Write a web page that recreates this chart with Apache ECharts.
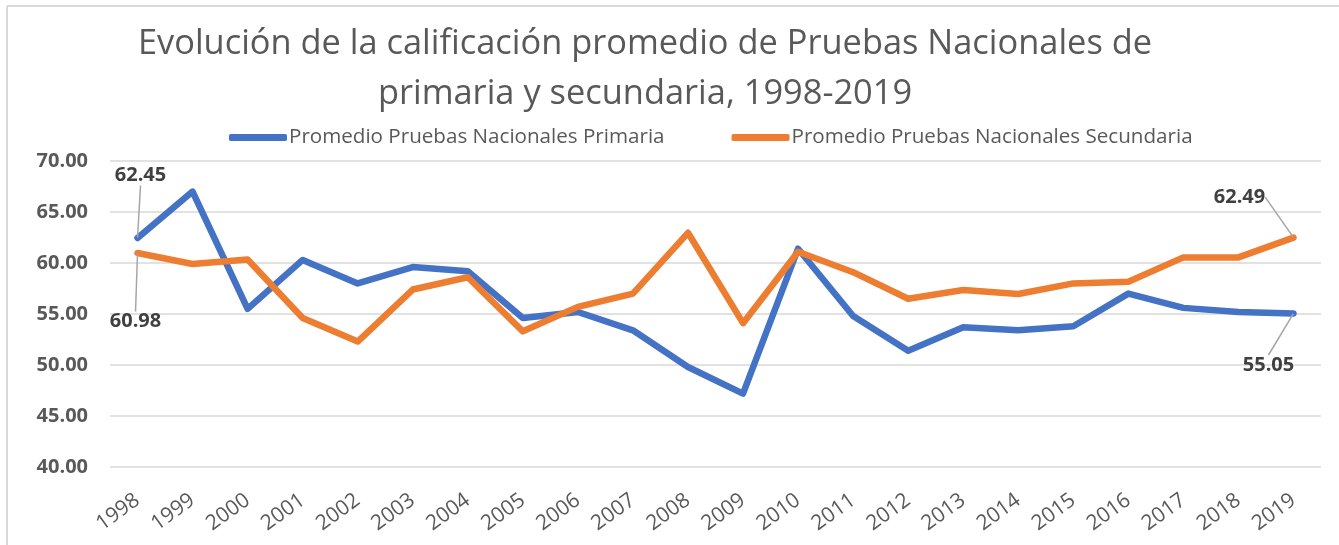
<!DOCTYPE html>
<html>
<head>
<meta charset="utf-8">
<script src="https://cdn.jsdelivr.net/npm/echarts@6/dist/echarts.min.js"></script>
<style>
html,body{margin:0;padding:0;background:#fff;}
#chart{width:1339px;height:545px;}
</style>
</head>
<body>
<div id="chart"></div>
<script>
const years = ['1998','1999','2000','2001','2002','2003','2004','2005','2006','2007','2008','2009','2010','2011','2012','2013','2014','2015','2016','2017','2018','2019'];
const primaria = [62.45,67.0,55.5,60.3,58.0,59.6,59.2,54.6,55.2,53.4,49.8,47.2,61.4,54.8,51.4,53.7,53.4,53.8,57.0,55.6,55.2,55.05];
const secundaria = [60.98,59.9,60.35,54.6,52.3,57.4,58.6,53.3,55.7,57.0,62.96,54.1,61.1,59.1,56.5,57.35,56.96,58.0,58.16,60.55,60.55,62.49];
const yTicks = [40,45,50,55,60,65,70];
const seriesNames = ['Promedio Pruebas Nacionales Primaria','Promedio Pruebas Nacionales Secundaria'];
const titleText = 'Evolución de la calificación promedio de Pruebas Nacionales de\nprimaria y secundaria, 1998-2019';

const FONT = 'Open Sans';
const labelStyle = {fontFamily: FONT, fontWeight: 'bold', fontSize: 20, color: '#404040'};

function endLabels(values, firstPos, lastPos) {
  return values.map((v, i) => {
    if (i === 0) return {value: v, label: Object.assign({show: true, position: firstPos, formatter: v.toFixed(2)}, labelStyle)};
    if (i === values.length - 1) return {value: v, label: Object.assign({show: true, position: lastPos, formatter: v.toFixed(2)}, labelStyle)};
    return v;
  });
}

const chart = echarts.init(document.getElementById('chart'));
chart.setOption({
  animation: false,
  backgroundColor: '#ffffff',
  title: {
    text: titleText,
    left: 640,
    top: 14,
    textAlign: 'center',
    textStyle: {fontFamily: FONT, fontWeight: 'normal', fontSize: 34.4, color: '#595959', lineHeight: 50}
  },
  legend: {
    left: 224,
    top: 122,
    itemWidth: 58,
    itemHeight: 7,
    itemGap: 67,
    icon: 'roundRect',
    textStyle: {fontFamily: FONT, fontSize: 20.6, color: '#595959', padding: [0,0,0,-3]},
    data: seriesNames
  },
  grid: {left: 110, right: 18, top: 161, bottom: 78, containLabel: false},
  xAxis: {
    type: 'category',
    data: years,
    boundaryGap: true,
    axisLine: {show: false},
    axisTick: {show: false},
    axisLabel: {rotate: 36, margin: 31, fontFamily: FONT, fontSize: 21, color: '#595959', interval: 0}
  },
  yAxis: {
    type: 'value',
    min: yTicks[0],
    max: yTicks[yTicks.length - 1],
    interval: 5,
    axisLine: {show: false},
    axisTick: {show: false},
    splitLine: {lineStyle: {color: '#d9d9d9', width: 1.5}},
    axisLabel: {margin: 22, fontFamily: FONT, fontSize: 20, fontWeight: 'bold', color: '#595959', formatter: v => v.toFixed(2)}
  },
  graphic: [
    {type: 'line', shape: {x1: 7, y1: 6, x2: 1339, y2: 6}, style: {stroke: '#d9d9d9', lineWidth: 2}, silent: true},
    {type: 'line', shape: {x1: 7, y1: 6, x2: 7, y2: 545}, style: {stroke: '#d9d9d9', lineWidth: 2}, silent: true}
  ],
  series: [
    {
      name: seriesNames[0],
      type: 'line',
      data: endLabels(primaria, 'top', 'bottom'),
      symbol: 'circle',
      symbolSize: 1,
      showSymbol: true,
      lineStyle: {color: '#4472C4', width: 6.5, cap: 'round', join: 'round'},
      itemStyle: {color: '#4472C4'},
      labelLine: {show: true, lineStyle: {color: '#a6a6a6', width: 1.5}},
      labelLayout: p => p.dataIndex === 0 ? {dx: 3, dy: -47} : {dx: -25, dy: 36}
    },
    {
      name: seriesNames[1],
      type: 'line',
      data: endLabels(secundaria, 'bottom', 'top'),
      symbol: 'circle',
      symbolSize: 1,
      showSymbol: true,
      lineStyle: {color: '#ED7D31', width: 6.5, cap: 'round', join: 'round'},
      itemStyle: {color: '#ED7D31'},
      labelLine: {show: true, lineStyle: {color: '#a6a6a6', width: 1.5}},
      labelLayout: p => p.dataIndex === 0 ? {dx: -2, dy: 53} : {dx: -54, dy: -25}
    }
  ]
});
</script>
</body>
</html>
